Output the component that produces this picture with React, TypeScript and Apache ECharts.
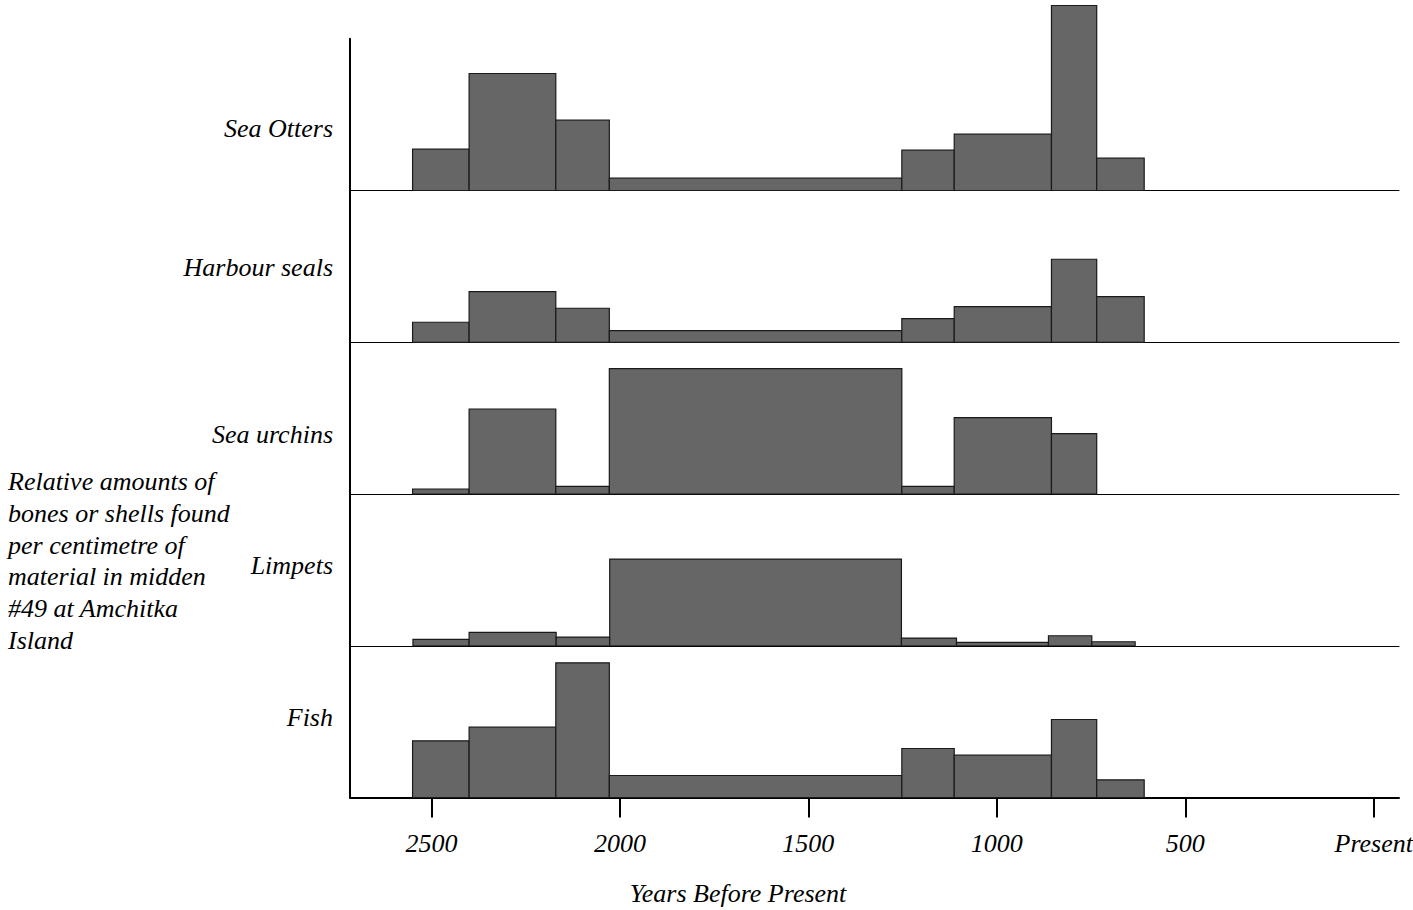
import React, { useEffect, useRef } from "react";
import * as echarts from "echarts";

// Years before present (bin edges, older -> younger)
const binStarts = [2550, 2400, 2170, 2028, 1252, 1113, 855, 735];
const binEnds = [2400, 2170, 2028, 1252, 1113, 855, 735, 609];
const limpetStarts = [2549, 2400, 2169, 2027, 1253, 1107, 863, 748];
const limpetEnds = [2400, 2169, 2027, 1253, 1107, 863, 748, 633];

// Relative amounts per bin
const seaOtters = [41.3, 117, 70.3, 12.3, 40.3, 56.3, 185, 32.3];
const harbourSeals = [20, 50.6, 34, 11.6, 23.6, 35.6, 83, 45.6];
const seaUrchins = [5, 85, 7.7, 125.3, 7.7, 76.3, 60.3, 0];
const limpets = [6.3, 13.3, 8.7, 86.7, 7.7, 3.3, 10, 4];
const fish = [56.7, 70.3, 134.7, 22, 49, 42.3, 78, 17.7];

const panelNames = ["Sea Otters", "Harbour seals", "Sea urchins", "Limpets", "Fish"];
const tickYears = [0, 500, 1000, 1500, 2000, 2500];
const xAxisTitle = "Years Before Present";
const yAxisNote = [
  "Relative amounts of",
  "bones or shells found",
  "per centimetre of",
  "material in midden",
  "#49 at Amchitka",
  "Island",
];

const FONT = "'Liberation Serif', 'Times New Roman', serif";

export default function App() {
  const ref = useRef<HTMLDivElement>(null);
  useEffect(() => {
    if (!ref.current) return;
    const chart = echarts.init(ref.current, null, { renderer: "svg" });

    const panels = [
      { starts: binStarts, ends: binEnds, values: seaOtters },
      { starts: binStarts, ends: binEnds, values: harbourSeals },
      { starts: binStarts, ends: binEnds, values: seaUrchins },
      { starts: limpetStarts, ends: limpetEnds, values: limpets },
      { starts: binStarts, ends: binEnds, values: fish },
    ];

    const H = 151.75;
    const TOP0 = 38.75;
    const labelY = [128, 267, 434, 565, 717];

    const grids = panels.map((_, i) => ({
      left: 350,
      right: 14,
      top: TOP0 + i * H,
      height: H,
      containLabel: false,
      outerBoundsMode: "none",
    }));

    const xAxes = panels.map((_, i) => {
      const last = i === panels.length - 1;
      return {
        type: "value",
        gridIndex: i,
        min: -67,
        max: 2716,
        inverse: true,
        splitLine: { show: false },
        axisLine: {
          show: true,
          onZero: false,
          lineStyle: { color: "#000", width: last ? 2 : 1 },
        },
        axisTick: last
          ? {
              show: true,
              customValues: tickYears,
              length: 20,
              lineStyle: { color: "#000", width: 2 },
            }
          : { show: false },
        axisLabel: last
          ? {
              show: true,
              customValues: tickYears,
              margin: 33,
              color: "#000",
              fontFamily: FONT,
              fontStyle: "italic",
              fontSize: 26,
              hideOverlap: false,
              formatter: (v: number) => (v === 0 ? "Present" : String(v)),
            }
          : { show: false },
      };
    });

    const yAxes = panels.map((_, i) => ({
      type: "value",
      gridIndex: i,
      min: 0,
      max: H,
      splitLine: { show: false },
      axisLine: { show: true, onZero: false, lineStyle: { color: "#000", width: 2 } },
      axisTick: { show: false },
      axisLabel: { show: false },
    }));

    const series = panels.map((p, i) => ({
      type: "custom",
      xAxisIndex: i,
      yAxisIndex: i,
      clip: false,
      encode: { x: [0, 1], y: 2 },
      data: p.values
        .map((v, k) => [p.starts[k], p.ends[k], v])
        .filter((d) => d[2] > 0),
      renderItem: (params: any, api: any) => {
        const a = api.coord([api.value(0), 0]);
        const b = api.coord([api.value(1), api.value(2)]);
        return {
          type: "rect",
          shape: {
            x: Math.min(a[0], b[0]),
            y: b[1],
            width: Math.abs(b[0] - a[0]),
            height: a[1] - b[1],
          },
          style: { fill: "#666666", stroke: "#1a1a1a", lineWidth: 1.2 },
        };
      },
    }));

    const graphic: any[] = panelNames.map((name, i) => ({
      type: "text",
      x: 333,
      y: labelY[i],
      style: {
        text: name,
        fill: "#000",
        font: `italic 26px ${FONT}`,
        textAlign: "right",
        textVerticalAlign: "middle",
      },
    }));
    graphic.push({
      type: "text",
      x: 738,
      y: 893,
      style: {
        text: xAxisTitle,
        fill: "#000",
        font: `italic 26px ${FONT}`,
        textAlign: "center",
        textVerticalAlign: "middle",
      },
    });
    yAxisNote.forEach((line, k) => {
      graphic.push({
        type: "text",
        x: 8,
        y: 481.7 + k * 31.7,
        style: {
          text: line,
          fill: "#000",
          font: `italic 26px ${FONT}`,
          textAlign: "left",
          textVerticalAlign: "middle",
        },
      });
    });

    chart.setOption({
      animation: false,
      backgroundColor: "#fff",
      grid: grids,
      xAxis: xAxes,
      yAxis: yAxes,
      series,
      graphic,
    });
    return () => chart.dispose();
  }, []);
  return (
    <div
      ref={ref}
      style={{ position: "fixed", left: 0, top: 0, width: 1413, height: 910 }}
    />
  );
}
